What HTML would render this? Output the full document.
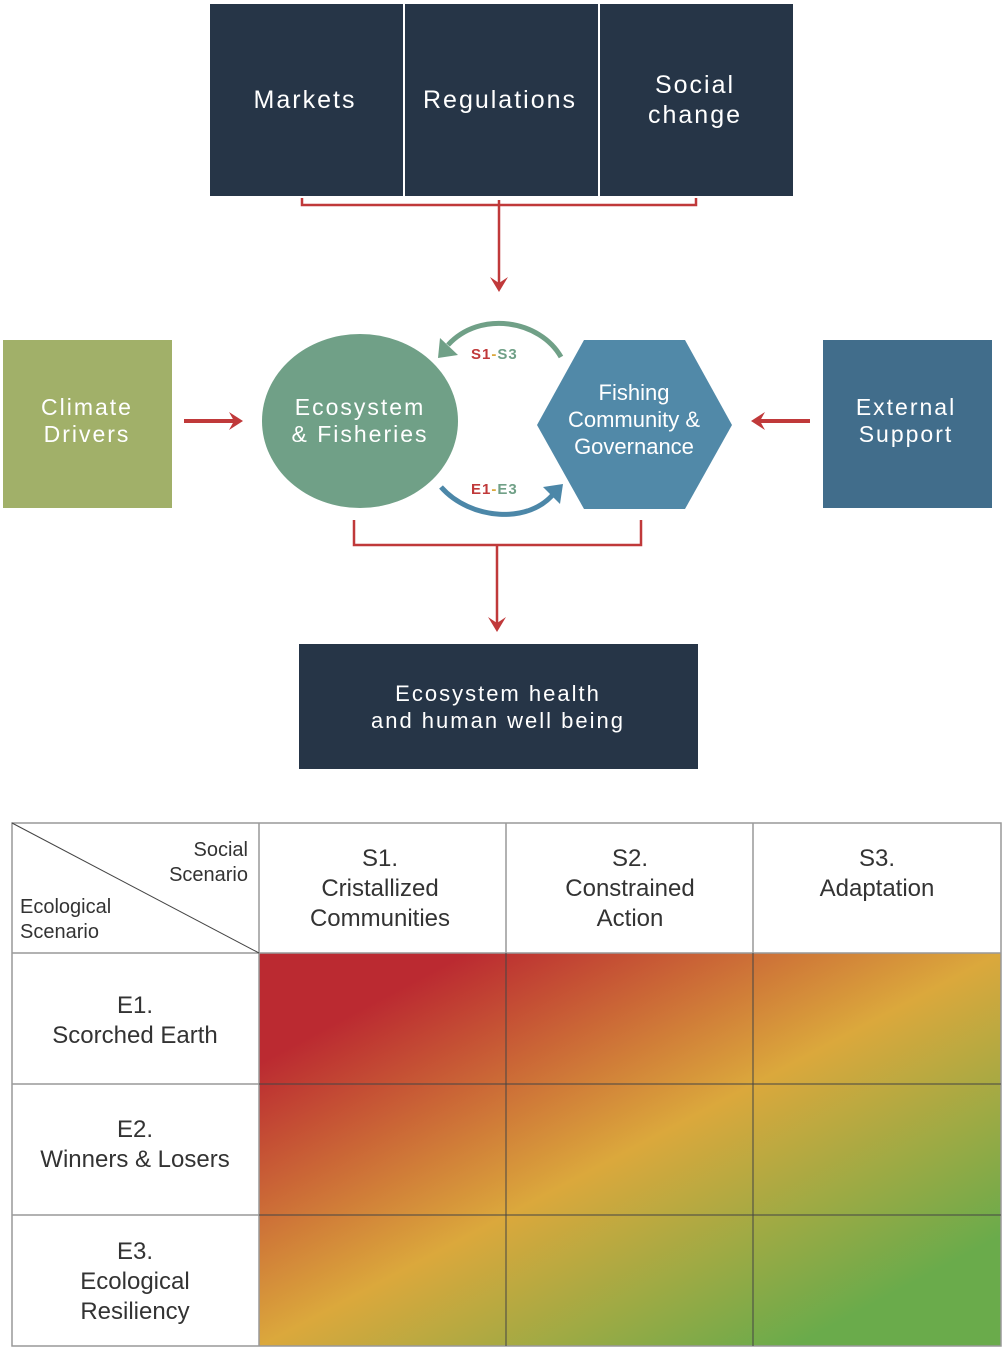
<!DOCTYPE html>
<html><head><meta charset="utf-8"><style>
html,body{margin:0;padding:0;background:#fff}
svg{display:block}
text{font-family:"Liberation Sans",sans-serif}
</style></head><body>
<svg width="1006" height="1352" viewBox="0 0 1006 1352" xmlns="http://www.w3.org/2000/svg">
<defs>
<linearGradient id="g" gradientUnits="userSpaceOnUse" x1="467" y1="843" x2="793" y2="1457">
<stop offset="0.14" stop-color="#bb2a31"/>
<stop offset="0.5" stop-color="#dba83c"/>
<stop offset="0.86" stop-color="#6aab4b"/>
</linearGradient>
</defs>
<rect x="210" y="4" width="193" height="192" fill="#263547"/>
<rect x="405" y="4" width="193" height="192" fill="#263547"/>
<rect x="600" y="4" width="193" height="192" fill="#263547"/>
<g fill="#fff" font-size="25" text-anchor="middle" letter-spacing="2">
<text x="305" y="108">Markets</text>
<text x="500" y="108">Regulations</text>
<text x="695" y="93">Social</text>
<text x="695" y="123">change</text>
</g>
<path d="M302 198 V205 H696 V198 M499 200 V283" stroke="#c0393a" stroke-width="2.5" fill="none"/>
<path d="M490 277 L499 292 L508 277 L499 283 Z" fill="#c0393a"/>
<rect x="3" y="340" width="169" height="168" fill="#a1b069"/>
<g fill="#fff" font-size="23" text-anchor="middle" letter-spacing="2">
<text x="87" y="415">Climate</text>
<text x="87" y="442">Drivers</text>
</g>
<path d="M184 421 H236" stroke="#c0393a" stroke-width="4"/>
<path d="M229 412 L243 421 L229 430 L234 421 Z" fill="#c0393a"/>
<rect x="823" y="340" width="169" height="168" fill="#416d8b"/>
<g fill="#fff" font-size="23" text-anchor="middle" letter-spacing="2">
<text x="906" y="415">External</text>
<text x="906" y="442">Support</text>
</g>
<path d="M810 421 H758" stroke="#c0393a" stroke-width="4"/>
<path d="M765 412 L751 421 L765 430 L760 421 Z" fill="#c0393a"/>
<ellipse cx="360" cy="421" rx="98" ry="87" fill="#70a087"/>
<g fill="#fff" font-size="23" text-anchor="middle" letter-spacing="2">
<text x="360" y="415">Ecosystem</text>
<text x="360" y="442">&amp; Fisheries</text>
</g>
<polygon points="537,425 584,340 685,340 732,425 685,509 584,509" fill="#5189a8"/>
<g fill="#fff" font-size="22" text-anchor="middle">
<text x="634" y="400">Fishing</text>
<text x="634" y="427">Community &amp;</text>
<text x="634" y="454">Governance</text>
</g>
<path d="M561 357 C540 320 480 310 448 345" stroke="#70a087" stroke-width="5" fill="none"/>
<path d="M440 338 L438 358 L458 355 Z" fill="#70a087"/>
<path d="M441 487 C470 520 530 525 555 492" stroke="#4c87a8" stroke-width="5" fill="none"/>
<path d="M543 487 L563 484 L560 504 Z" fill="#4c87a8"/>
<g font-size="15" font-weight="bold" letter-spacing="1">
<text x="471" y="359"><tspan fill="#c0393a">S1</tspan><tspan fill="#dba83c">-</tspan><tspan fill="#70a087">S3</tspan></text>
<text x="471" y="494"><tspan fill="#c0393a">E1</tspan><tspan fill="#dba83c">-</tspan><tspan fill="#70a087">E3</tspan></text>
</g>
<path d="M354 520 V545 H641 V520 M497 545 V623" stroke="#c0393a" stroke-width="2.5" fill="none"/>
<path d="M488 617 L497 632 L506 617 L497 623 Z" fill="#c0393a"/>
<rect x="299" y="644" width="399" height="125" fill="#263547"/>
<g fill="#fff" font-size="22" text-anchor="middle" letter-spacing="2">
<text x="498" y="701">Ecosystem health</text>
<text x="498" y="728">and human well being</text>
</g>
<rect x="259" y="953" width="742" height="393" fill="url(#g)"/>
<g stroke="#999" stroke-width="1.5" fill="none">
<rect x="12" y="823" width="989" height="523"/>
<line x1="12" y1="953" x2="259" y2="953"/>
<line x1="12" y1="1084" x2="259" y2="1084"/>
<line x1="12" y1="1215" x2="259" y2="1215"/>
<line x1="259" y1="823" x2="259" y2="1346"/>
<line x1="506" y1="823" x2="506" y2="953"/>
<line x1="753" y1="823" x2="753" y2="953"/>
<line x1="259" y1="953" x2="1001" y2="953"/>
</g>
<g stroke="#444" stroke-width="1">
<line x1="259" y1="1084" x2="1001" y2="1084"/>
<line x1="259" y1="1215" x2="1001" y2="1215"/>
<line x1="506" y1="953" x2="506" y2="1346"/>
<line x1="753" y1="953" x2="753" y2="1346"/>
<line x1="12" y1="823" x2="259" y2="953"/>
</g>
<g fill="#333" font-size="20">
<text x="248" y="856" text-anchor="end">Social</text>
<text x="248" y="881" text-anchor="end">Scenario</text>
<text x="20" y="913">Ecological</text>
<text x="20" y="938">Scenario</text>
</g>
<g fill="#333" font-size="24" text-anchor="middle">
<text x="380" y="866">S1.</text>
<text x="380" y="896">Cristallized</text>
<text x="380" y="926">Communities</text>
<text x="630" y="866">S2.</text>
<text x="630" y="896">Constrained</text>
<text x="630" y="926">Action</text>
<text x="877" y="866">S3.</text>
<text x="877" y="896">Adaptation</text>
<text x="135" y="1013">E1.</text>
<text x="135" y="1043">Scorched Earth</text>
<text x="135" y="1137">E2.</text>
<text x="135" y="1167">Winners &amp; Losers</text>
<text x="135" y="1259">E3.</text>
<text x="135" y="1289">Ecological</text>
<text x="135" y="1319">Resiliency</text>
</g>
</svg>
</body></html>
